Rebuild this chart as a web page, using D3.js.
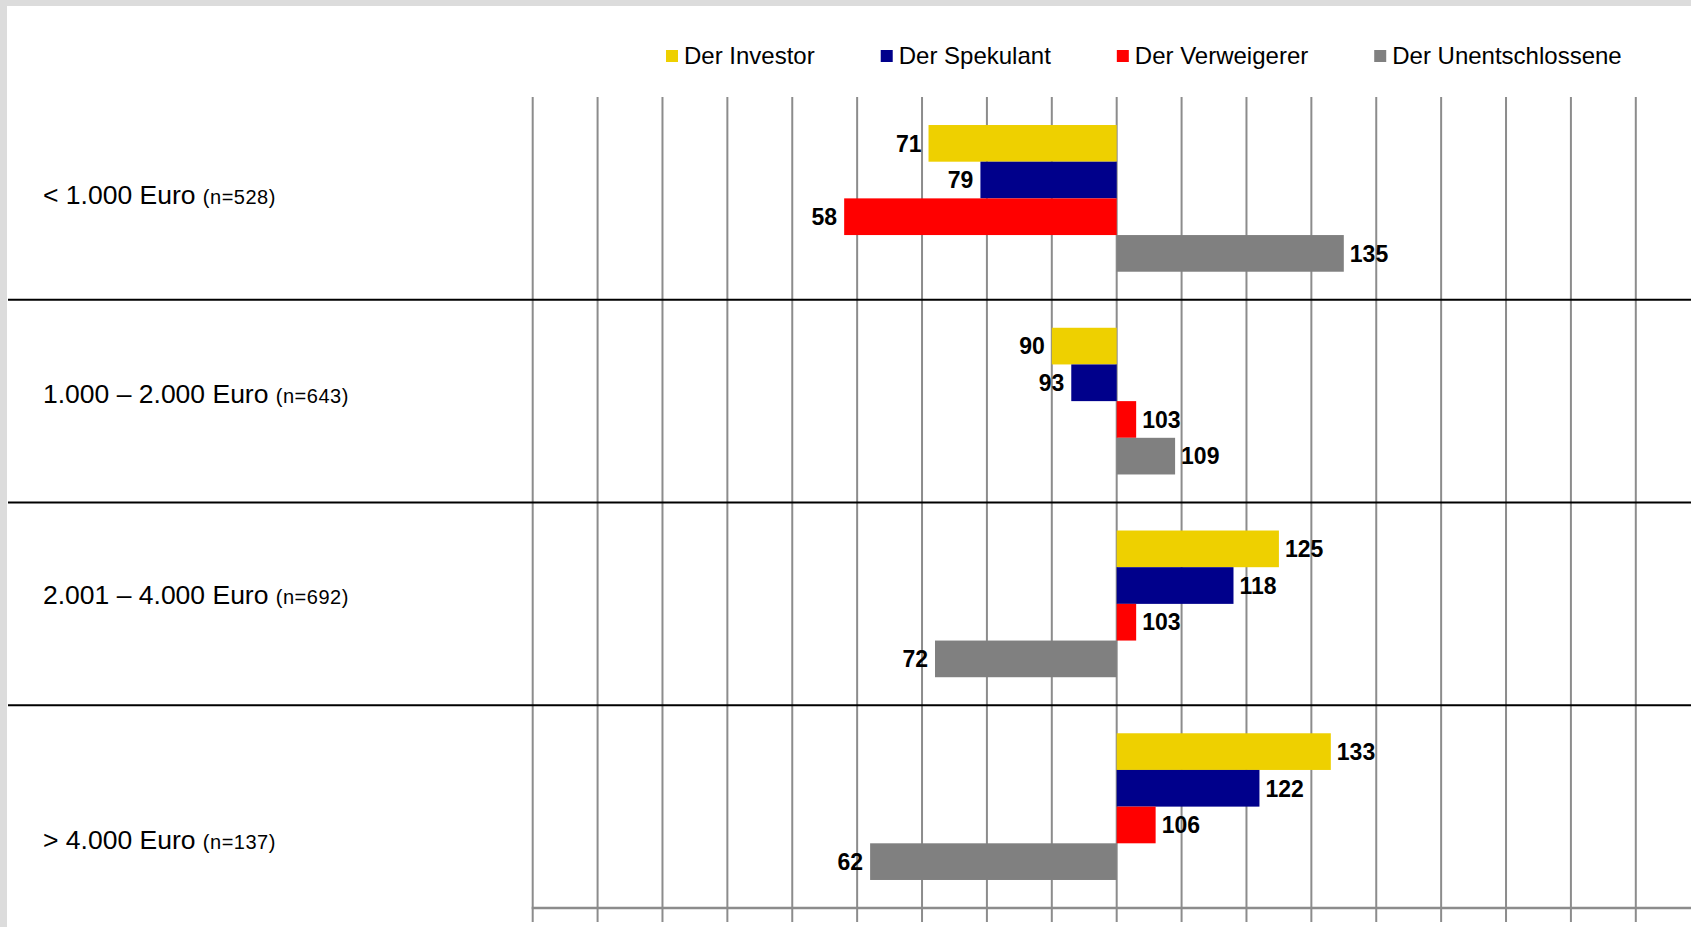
<!DOCTYPE html>
<html>
<head>
<meta charset="utf-8">
<script src="https://cdn.jsdelivr.net/npm/d3@7"></script>
<style>
  html, body { margin: 0; padding: 0; overflow: hidden; background: #fff; }
  text { font-family: "Liberation Sans", Arial, Helvetica, sans-serif; fill: #000; }
</style>
</head>
<body>
<svg id="chart" width="1691" height="927"></svg>
<script>
// Income groups (rows) and their sample sizes
const categories = ["< 1.000 Euro", "1.000 – 2.000 Euro", "2.001 – 4.000 Euro", "> 4.000 Euro"];
const sampleSizes = [528, 643, 692, 137];

// Investor types (series) – index values, 100 = average
const seriesNames = ["Der Investor", "Der Spekulant", "Der Verweigerer", "Der Unentschlossene"];
const investor = [71, 90, 125, 133];
const spekulant = [79, 93, 118, 122];
const verweigerer = [58, 103, 103, 106];
const unentschlossene = [135, 109, 72, 62];
const seriesColors = ["#eed000", "#00008b", "#ff0000", "#808080"];

// Index baseline and grid ticks
const indexBase = 100;
const gridTicks = d3.range(10, 181, 10);

const seriesValues = [investor, spekulant, verweigerer, unentschlossene];

const W = 1691, H = 927;
const plotTop = 97, plotBottom = 908, tickEnd = 922;
// vertical nudges of the row captions relative to their band centre
const captionNudge = [6, 1.5, 0.5, 42];

const svg = d3.select("#chart");

// page frame
svg.append("rect").attr("width", W).attr("height", H).attr("fill", "#dcdcdc");
svg.append("rect").attr("x", 7).attr("y", 6).attr("width", W - 7).attr("height", H - 6).attr("fill", "#fff");

const x = d3.scaleLinear().domain([10, 180]).range([532.7, 1635.8]);
const y = d3.scaleBand().domain(categories).range([plotTop, plotBottom])
  .paddingInner(0.2764).paddingOuter(0.1382);
const ySub = d3.scaleBand().domain(seriesNames).range([0, y.bandwidth()]);
const color = d3.scaleOrdinal().domain(seriesNames).range(seriesColors);

// vertical grid lines
svg.append("g").selectAll("line").data(gridTicks).join("line")
  .attr("x1", d => x(d)).attr("x2", d => x(d))
  .attr("y1", plotTop).attr("y2", tickEnd)
  .attr("stroke", "#8c8c8c").attr("stroke-width", 2);

// bottom axis line
svg.append("line")
  .attr("x1", x(gridTicks[0]) - 1).attr("x2", W)
  .attr("y1", plotBottom).attr("y2", plotBottom)
  .attr("stroke", "#8c8c8c").attr("stroke-width", 2.5);

// row separators
svg.append("g").selectAll("line").data(d3.range(1, categories.length)).join("line")
  .attr("x1", 8).attr("x2", W)
  .attr("y1", i => plotTop + i * y.step()).attr("y2", i => plotTop + i * y.step())
  .attr("stroke", "#000").attr("stroke-width", 2);

// flattened bar records
const records = [];
categories.forEach((cat, i) => {
  seriesNames.forEach((s, j) => {
    records.push({ cat, series: s, value: seriesValues[j][i] });
  });
});

// bars grow from the index baseline
svg.append("g").selectAll("rect").data(records).join("rect")
  .attr("x", d => x(Math.min(d.value, indexBase)))
  .attr("width", d => Math.abs(x(d.value) - x(indexBase)))
  .attr("y", d => y(d.cat) + ySub(d.series))
  .attr("height", ySub.bandwidth())
  .attr("fill", d => color(d.series));

// value labels
svg.append("g").selectAll("text").data(records).join("text")
  .attr("x", d => d.value >= indexBase ? x(d.value) + 6 : x(d.value) - 7)
  .attr("y", d => y(d.cat) + ySub(d.series) + ySub.bandwidth() / 2)
  .attr("dy", "0.36em")
  .attr("text-anchor", d => d.value >= indexBase ? "start" : "end")
  .style("font-size", "23px").style("font-weight", "bold")
  .text(d => d.value);

// row captions
const captions = svg.append("g").selectAll("text").data(categories).join("text")
  .attr("x", 43)
  .attr("y", (d, i) => y(d) + y.bandwidth() / 2 + captionNudge[i])
  .style("font-size", "26.5px");
captions.append("tspan").text(d => d + " ");
captions.append("tspan").style("font-size", "20px").style("letter-spacing", "0.5px")
  .text((d, i) => "(n=" + sampleSizes[i] + ")");

// legend
const legend = svg.append("g");
let lx = 666;
seriesNames.forEach(s => {
  legend.append("rect").attr("x", lx).attr("y", 50).attr("width", 12).attr("height", 12)
    .attr("fill", color(s));
  const t = legend.append("text").attr("x", lx + 18).attr("y", 64)
    .style("font-size", "24px").text(s);
  lx = lx + 18 + t.node().getComputedTextLength() + 66;
});
</script>
</body>
</html>
